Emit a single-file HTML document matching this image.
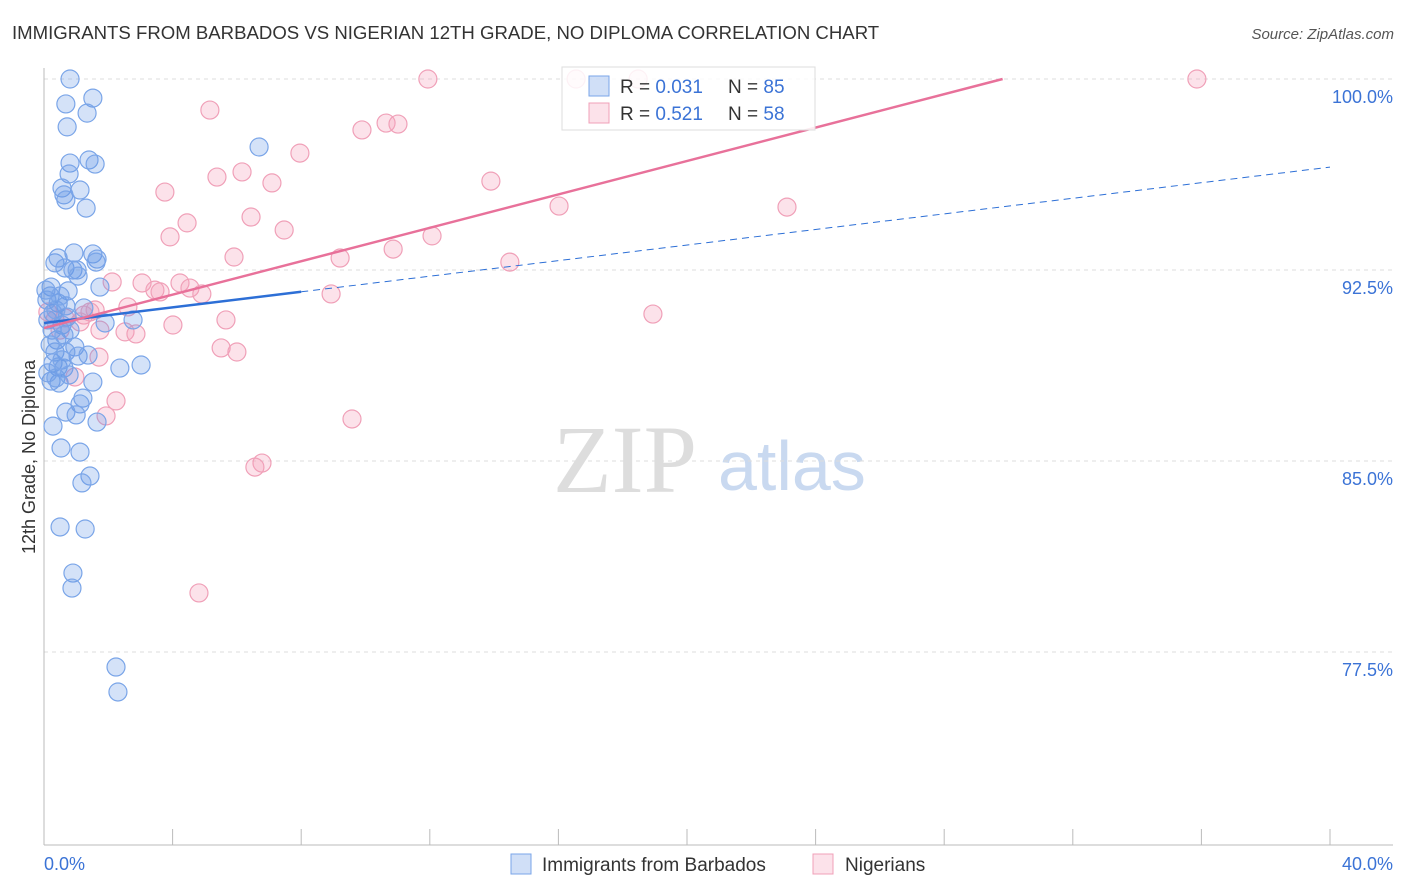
<!DOCTYPE html>
<html><head><meta charset="utf-8"><style>
body{margin:0;background:#fff;font-family:"Liberation Sans",sans-serif;}
svg{display:block}
</style></head><body>
<svg width="1406" height="892" xmlns="http://www.w3.org/2000/svg">
<text x="12" y="39" font-size="18.6" fill="#333">IMMIGRANTS FROM BARBADOS VS NIGERIAN 12TH GRADE, NO DIPLOMA CORRELATION CHART</text>
<text x="1394" y="39" font-size="15" fill="#555" font-style="italic" text-anchor="end">Source: ZipAtlas.com</text>
<g>
<text x="553" y="492" font-family="Liberation Serif,serif" font-size="96" fill="#ddd">ZIP</text>
<text x="718" y="490" font-size="70" fill="#c9d9f0">atlas</text>
</g>
<g id="grid"></g>
<g id="axes"></g>
<g id="marks"></g>
<g id="lines"></g>
<text transform="translate(35,457) rotate(-90)" font-size="18" fill="#333" text-anchor="middle">12th Grade, No Diploma</text>
<text x="44" y="870" font-size="18" fill="#3b73d6">0.0%</text>
<text x="1393" y="870" font-size="18" fill="#3b73d6" text-anchor="end">40.0%</text>
<g>
<rect x="562" y="67" width="253" height="63" fill="rgba(255,255,255,0.85)" stroke="#ddd"/>
<rect x="589" y="76" width="20" height="20" fill="rgba(100,150,230,0.3)" stroke="#7aa5e8"/>
<rect x="589" y="103" width="20" height="20" fill="rgba(245,160,185,0.3)" stroke="#f0a0b8"/>
<text x="620" y="93" font-size="19" fill="#333">R = <tspan fill="#3b73d6">0.031</tspan></text>
<text x="728" y="93" font-size="19" fill="#333">N = <tspan fill="#3b73d6">85</tspan></text>
<text x="620" y="120" font-size="19" fill="#333">R = <tspan fill="#3b73d6">0.521</tspan></text>
<text x="728" y="120" font-size="19" fill="#333">N = <tspan fill="#3b73d6">58</tspan></text>
</g>
<g>
<rect x="511" y="854" width="20" height="20" fill="rgba(100,150,230,0.3)" stroke="#7aa5e8"/>
<text x="542" y="871" font-size="19" fill="#333">Immigrants from Barbados</text>
<rect x="813" y="854" width="20" height="20" fill="rgba(245,160,185,0.3)" stroke="#f0a0b8"/>
<text x="845" y="871" font-size="19" fill="#333">Nigerians</text>
</g>
</svg>
<script>
const yTicks=[100,92.5,85,77.5];
const yTickLabels=["100.0%","92.5%","85.0%","77.5%"];
const xTicks=[0,4,8,12,16,20,24,28,32,36,40];
const blueX=[.81,.68,1.52,1.34,.72,.81,1.40,1.59,.78,.56,1.12,.62,.68,1.31,6.69,.34,.93,.44,1.52,1.65,1.62,.65,.90,1.03,1.06,.22,.75,1.74,.19,.44,.68,.28,.72,1.24,1.90,2.77,.56,.40,.96,.34,.68,1.06,.28,.44,.62,2.36,3.02,.22,.47,1.52,1.21,1.12,.68,1.00,1.65,.28,.53,1.12,1.43,1.18,.50,1.28,.90,.87,2.24,2.30,.09,.12,.25,.19,.37,.81,.56,.12,.37,.78,1.37,.06,.50,.62];
const blueY=[100,99.02,99.25,98.66,98.12,96.70,96.82,96.66,96.27,95.72,95.64,95.45,95.25,94.93,97.33,92.78,93.17,92.97,93.13,92.93,92.81,92.58,92.50,92.50,92.26,91.83,91.68,91.83,91.48,91.20,91.09,90.81,90.65,91.01,90.42,90.54,90.34,89.75,89.48,89.28,89.28,89.12,88.85,88.69,88.65,88.65,88.77,88.14,88.06,88.10,87.47,87.24,86.92,86.81,86.53,86.37,85.51,85.35,84.41,84.14,82.41,82.33,80.60,80.01,76.91,75.93,91.32,90.54,90.14,89.56,90.93,90.14,88.97,88.46,88.26,88.38,89.16,91.71,91.48,89.95];
const pinkX=[11.94,16.55,18.48,35.86,5.16,9.89,10.64,11.01,7.96,6.16,5.38,7.09,3.76,13.90,16.02,23.11,6.44,4.45,7.47,3.92,12.07,10.86,5.91,9.21,14.49,2.12,3.05,4.23,3.45,3.61,4.54,4.91,8.93,2.61,1.59,1.43,1.24,5.66,4.01,2.52,2.86,18.94,5.51,6.00,1.71,.96,2.24,1.93,9.58,6.78,6.56,4.82,.50,.34,.12,.65,1.12,1.74];
const pinkY=[100,100,100,100,98.78,98.00,98.27,98.23,97.09,96.35,96.15,95.92,95.56,95.99,95.01,94.97,94.58,94.35,94.07,93.80,93.84,93.32,93.01,92.97,92.81,92.03,91.99,91.99,91.71,91.64,91.79,91.56,91.56,91.05,90.93,90.85,90.73,90.54,90.34,90.07,89.99,90.77,89.44,89.28,89.08,88.30,87.36,86.77,86.65,84.92,84.76,79.82,90.14,90.54,90.85,90.62,90.46,90.14];
const blueTrend=[90.42,96.54];
const pinkTrend=[90.22,0.328];
const NS="http://www.w3.org/2000/svg";
const X=v=>44+v/40*1286, Y=v=>79+(100-v)*25.467;
function mk(t,a,p){const e=document.createElementNS(NS,t);for(const k in a)e.setAttribute(k,a[k]);p.appendChild(e);return e;}
const grid=document.getElementById('grid'),axes=document.getElementById('axes'),marks=document.getElementById('marks'),lines=document.getElementById('lines');
yTicks.forEach((t,i)=>{
 const l=mk('line',{x1:44,x2:1393,y1:Y(t),y2:Y(t),stroke:'#ddd','stroke-dasharray':'4,4'},grid);
 
 
 const tx=mk('text',{x:1393,y:Y(t)+24,'font-size':18,fill:'#3b73d6','text-anchor':'end'},grid);
 tx.textContent=yTickLabels[i];
 
 
});
const la=mk('line',{x1:44,x2:44,y1:68,y2:845,stroke:'#bbb'},axes);


const ba=mk('line',{x1:44,x2:1393,y1:845,y2:845,stroke:'#bbb'},axes);


xTicks.forEach(t=>{
 const k=mk('line',{x1:X(t),x2:X(t),y1:829,y2:845,stroke:'#bbb'},axes);
 
 
});
function pts(xs,ys,fill,stroke,name){xs.forEach((x,i)=>{
 const c=mk('circle',{cx:X(x),cy:Y(ys[i]),r:9,fill:fill,stroke:stroke,'stroke-width':1.2},marks);
 
 
});}
pts(pinkX,pinkY,'rgba(245,160,185,0.3)','#f0a0b8','nigerian-point');
pts(blueX,blueY,'rgba(100,150,230,0.28)','#7aa5e8','barbados-point');
const bAt=x=>blueTrend[0]+(blueTrend[1]-blueTrend[0])*x/40;
const b1=mk('line',{x1:X(0),y1:Y(bAt(0)),x2:X(8),y2:Y(bAt(8)),stroke:'#2d6fd6','stroke-width':2.5},lines);


const b2=mk('line',{x1:X(8),y1:Y(bAt(8)),x2:X(40),y2:Y(bAt(40)),stroke:'#2d6fd6','stroke-width':1,'stroke-dasharray':'7,5'},lines);


const xEnd=(100-pinkTrend[0])/pinkTrend[1];
const p1=mk('line',{x1:X(0),y1:Y(pinkTrend[0]),x2:X(xEnd),y2:Y(100),stroke:'#e8719a','stroke-width':2.5},lines);


</script>
</body></html>
